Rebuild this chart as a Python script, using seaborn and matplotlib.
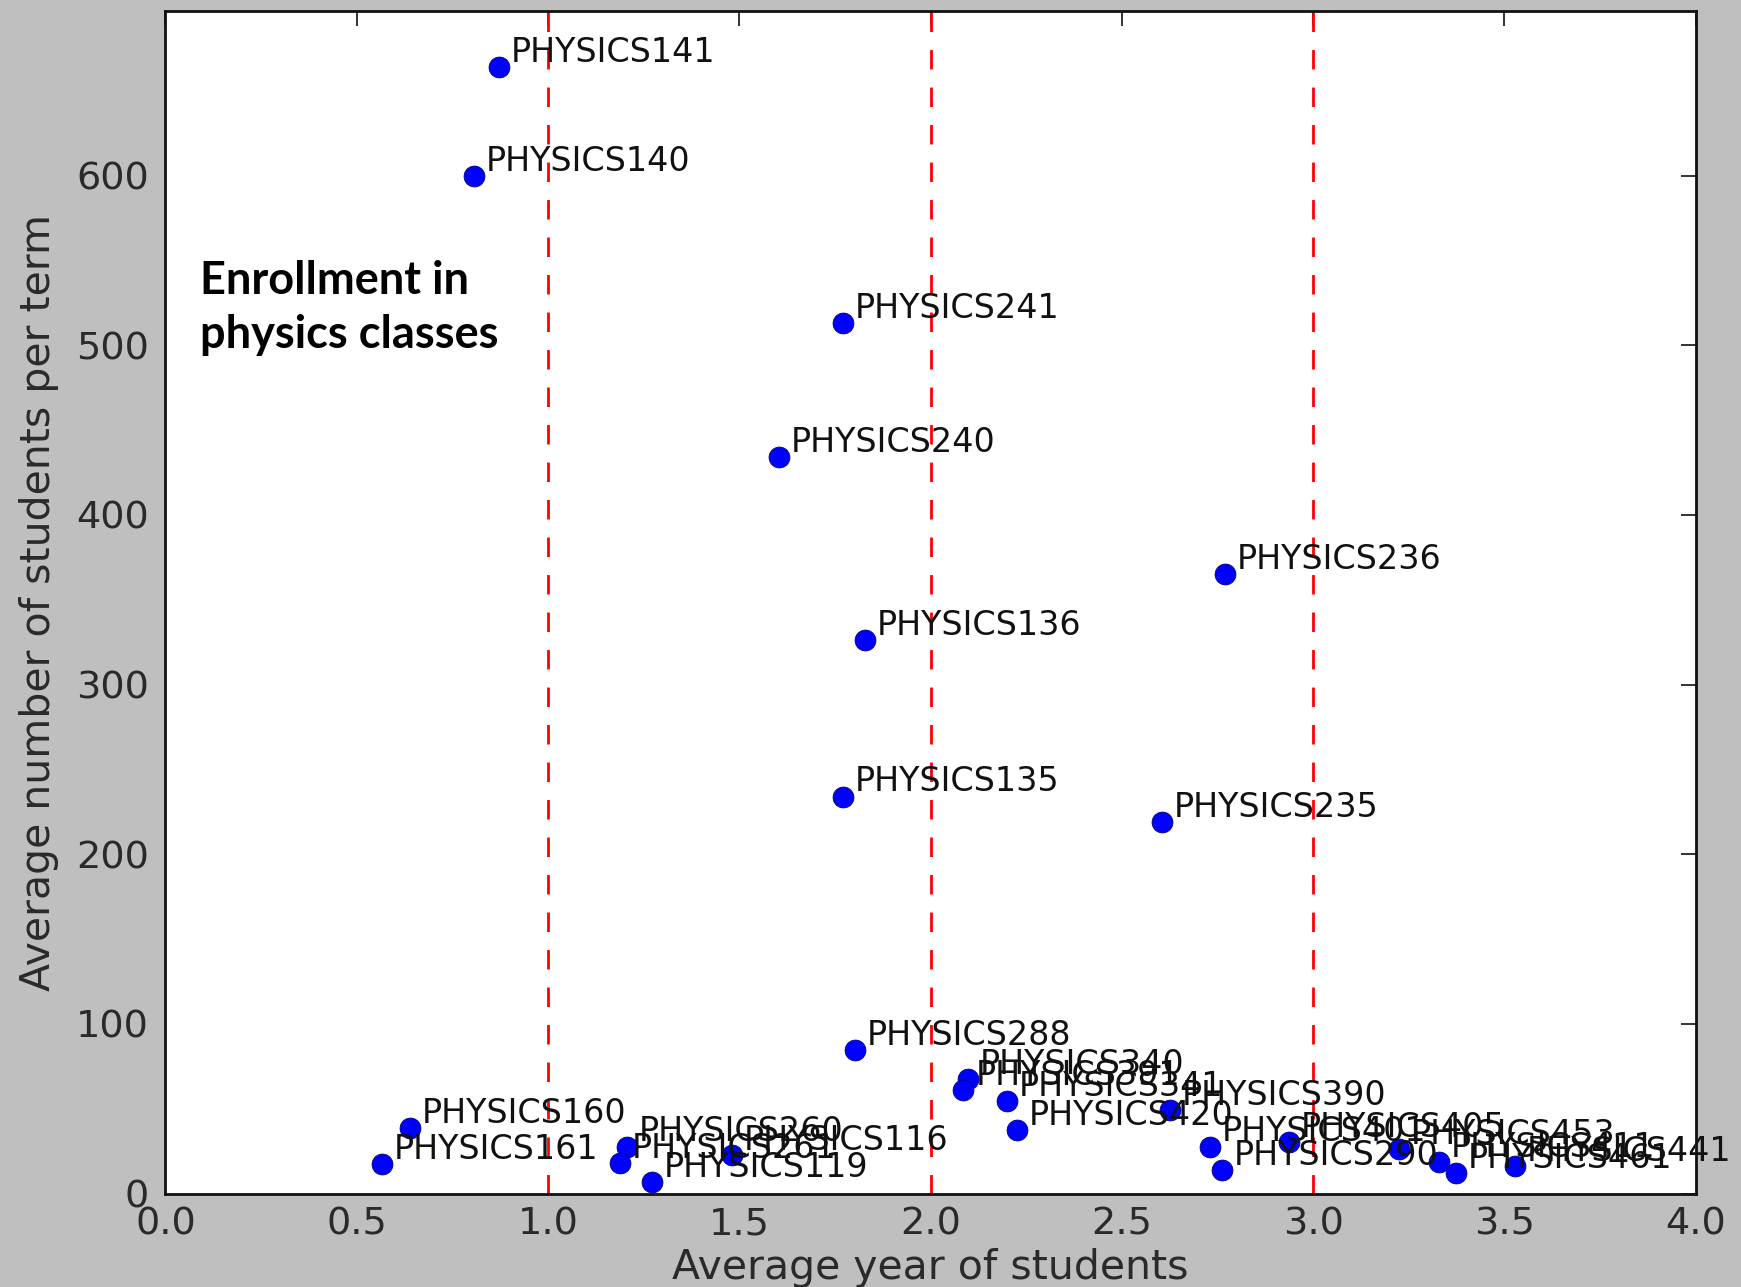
import matplotlib
matplotlib.use("Agg")
import matplotlib.pyplot as plt
import seaborn as sns
import pandas as pd

# ---- data ----
courses = ["PHYSICS141", "PHYSICS140", "PHYSICS241", "PHYSICS240", "PHYSICS236",
           "PHYSICS136", "PHYSICS135", "PHYSICS235", "PHYSICS288", "PHYSICS340",
           "PHYSICS391", "PHYSICS341", "PHYSICS420", "PHYSICS390", "PHYSICS401",
           "PHYSICS290", "PHYSICS405", "PHYSICS453", "PHYSICS411", "PHYSICS461",
           "PHYSICS441", "PHYSICS160", "PHYSICS161", "PHYSICS260", "PHYSICS261",
           "PHYSICS119", "PHYSICS116"]
avg_year = [0.871, 0.807, 1.771, 1.605, 2.769,
            1.829, 1.771, 2.604, 1.803, 2.099,
            2.086, 2.199, 2.226, 2.626, 2.731,
            2.762, 2.936, 3.225, 3.328, 3.374,
            3.528, 0.640, 0.565, 1.206, 1.188,
            1.271, 1.480]
avg_students = [664, 600, 513, 434, 365,
                326, 234, 219, 84.5, 67.4,
                61.1, 54.6, 37.5, 49.3, 27.7,
                13.9, 30.6, 26.0, 18.8, 12.0,
                16.3, 38.5, 17.3, 27.7, 17.8,
                7.0, 22.8]
year_lines = [1.0, 2.0, 3.0]
x_ticks = [0.0, 0.5, 1.0, 1.5, 2.0, 2.5, 3.0, 3.5, 4.0]
y_ticks = [0, 100, 200, 300, 400, 500, 600]

df = pd.DataFrame({"course": courses, "year": avg_year, "students": avg_students})

sns.set_style("white")
plt.rcParams["font.family"] = ["DejaVu Sans"]
plt.rcParams["lines.scale_dashes"] = False

fig = plt.figure(figsize=(17.41, 12.87), dpi=100, facecolor="#bfbfbf")
ax = fig.add_axes([0.095, 0.0726, 0.879, 0.9188])
ax.set_facecolor("white")

for xv in year_lines:
    ax.axvline(xv, color="red", lw=2.0, dashes=(14, 13), zorder=1)

sns.scatterplot(data=df, x="year", y="students", ax=ax, color="#0000ff",
                s=225, edgecolor="#00007a", linewidth=0.6, zorder=3, legend=False)

for name, xv, yv in zip(courses, avg_year, avg_students):
    ax.annotate(name, (xv, yv), xytext=(8.5, 10.5), textcoords="offset points",
                ha="left", va="center", fontsize=24, color="#111111", zorder=4,
                annotation_clip=False)

ax.set_xlim(0, 4.0)
ax.set_ylim(0, 697)
ax.set_xticks(x_ticks)
ax.set_xticklabels([f"{v:.1f}" for v in x_ticks])
ax.set_yticks(y_ticks)
ax.tick_params(axis="both", direction="in", length=11, width=1.3, colors="#222222",
               labelsize=27.5, top=True, right=True)
ax.tick_params(axis="x", pad=9)
ax.tick_params(axis="y", pad=12)
for lbl in ax.get_xticklabels() + ax.get_yticklabels():
    lbl.set_color("#2a2a2a")

for sp in ax.spines.values():
    sp.set_visible(True)
    sp.set_color("#111111")
    sp.set_linewidth(2.0)

ax.set_xlabel("Average year of students", fontsize=29.5, color="#2a2a2a", labelpad=4)
ax.set_ylabel("Average number of students per term", fontsize=29.5, color="#2a2a2a", labelpad=12)

ax.text(0.09, 522, "Enrollment in\nphysics classes", fontsize=32.5, fontweight="bold",
        family=["Lato", "DejaVu Sans"], ha="left", va="center", color="black",
        linespacing=1.38, zorder=5)

fig.savefig("out.png", dpi=100, facecolor=fig.get_facecolor())
